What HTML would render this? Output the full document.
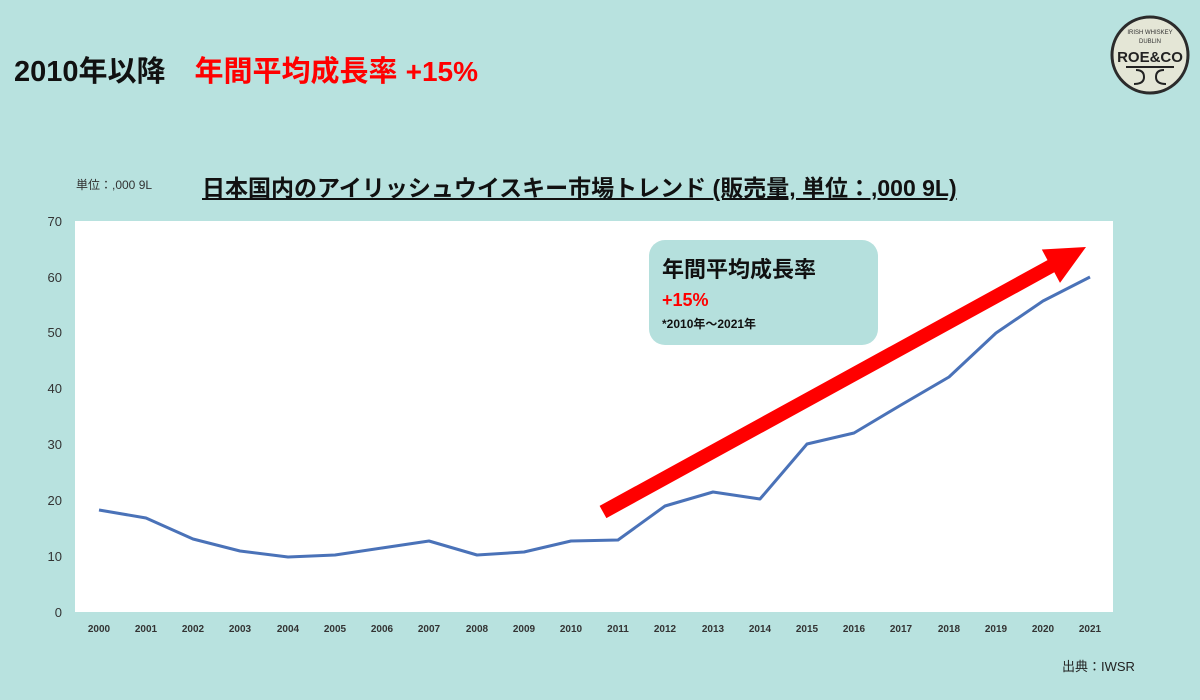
<!DOCTYPE html>
<html><head><meta charset="utf-8"><style>
body{margin:0;width:1200px;height:700px;background:#b8e2df;position:relative;overflow:hidden;font-family:"Liberation Sans","Noto Sans CJK JP",sans-serif}
.t{position:absolute;white-space:nowrap}
</style></head><body>
<div class="t" style="left:14px;top:48px;font-size:29px;font-weight:bold;color:#111">2010年以降　<span style="color:#f00">年間平均成長率</span> <span style="color:#f00;font-size:28px">+15%</span></div>
<div class="t" style="left:76px;top:176px;font-size:12px;color:#333">単位：,000 9L</div>
<div class="t" style="left:202px;top:169px;font-size:23px;font-weight:bold;color:#111;text-decoration:underline">日本国内のアイリッシュウイスキー市場トレンド  (販売量, 単位：,000 9L)</div>
<div class="t" style="left:1062px;top:656px;font-size:13px;color:#222">出典：IWSR</div>
<svg width="1200" height="700" style="position:absolute;left:0;top:0">
<rect x="75" y="221" width="1038" height="391" fill="#fff"/>
<g font-family="Liberation Sans,sans-serif" font-size="13" fill="#333" text-anchor="end">
<text x="62" y="226">70</text><text x="62" y="282">60</text><text x="62" y="337">50</text><text x="62" y="393">40</text><text x="62" y="449">30</text><text x="62" y="505">20</text><text x="62" y="561">10</text><text x="62" y="617">0</text>
</g>
<g font-family="Liberation Sans,sans-serif" font-size="10" font-weight="bold" fill="#333" text-anchor="middle">
<text x="99" y="632">2000</text><text x="146" y="632">2001</text><text x="193" y="632">2002</text><text x="240" y="632">2003</text><text x="288" y="632">2004</text><text x="335" y="632">2005</text><text x="382" y="632">2006</text><text x="429" y="632">2007</text><text x="477" y="632">2008</text><text x="524" y="632">2009</text><text x="571" y="632">2010</text><text x="618" y="632">2011</text><text x="665" y="632">2012</text><text x="713" y="632">2013</text><text x="760" y="632">2014</text><text x="807" y="632">2015</text><text x="854" y="632">2016</text><text x="901" y="632">2017</text><text x="949" y="632">2018</text><text x="996" y="632">2019</text><text x="1043" y="632">2020</text><text x="1090" y="632">2021</text>
</g>
<polyline fill="none" stroke="#4a72b8" stroke-width="3" stroke-linejoin="round" points="99,510 146,518 193,539 240,551 288,557 335,555 382,548 429,541 477,555 524,552 571,541 618,540 665,506 713,492 760,499 807,444 854,433 901,405 949,377 996,333 1043,301 1090,277"/>
<polygon fill="#f00" points="599.6,505.9 1047.5,260.1 1041.8,249.5 1086,247 1060,282.9 1054.3,272.3 606.4,518.1"/>
<rect x="649" y="240" width="229" height="105" rx="16" fill="#b5e0dd"/>
<text x="662" y="277" font-size="22" font-weight="bold" fill="#111" font-family="Liberation Sans,Noto Sans CJK JP,sans-serif">年間平均成長率</text>
<text x="662" y="306" font-size="18" font-weight="bold" fill="#f00" font-family="Liberation Sans,sans-serif">+15%</text>
<text x="662" y="328" font-size="12" font-weight="bold" fill="#111" font-family="Liberation Sans,Noto Sans CJK JP,sans-serif">*2010年～2021年</text>
<circle cx="1150" cy="55" r="38" fill="#e4e6d6" stroke="#2b2b2b" stroke-width="3"/>
<text x="1150" y="62" font-size="15" font-weight="bold" text-anchor="middle" fill="#222" font-family="Liberation Sans,sans-serif">ROE&amp;CO</text>
<text x="1150" y="34" font-size="6" text-anchor="middle" fill="#333" font-family="Liberation Sans,sans-serif">IRISH WHISKEY</text>
<text x="1150" y="43" font-size="6" text-anchor="middle" fill="#333" font-family="Liberation Sans,sans-serif">DUBLIN</text>
<path d="M1126 67 H1174 M1136 70 q8 0 8 7 q0 7 -10 7 M1164 70 q-8 0 -8 7 q0 7 10 7" stroke="#222" stroke-width="2" fill="none"/>
</svg>
</body></html>
